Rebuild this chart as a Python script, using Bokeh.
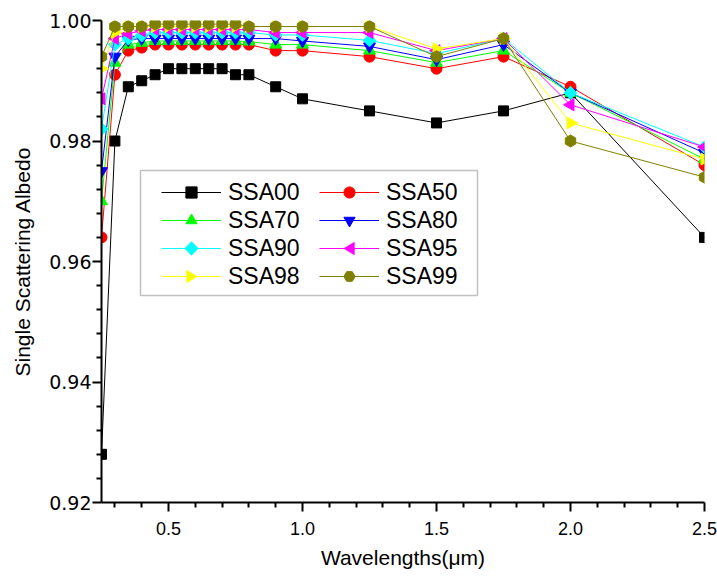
import math
from bokeh.plotting import figure
from bokeh.models import (Range1d, FixedTicker, NumeralTickFormatter, Legend,
                          LegendItem, BoxAnnotation, PolyAnnotation)
from bokeh.embed import file_html
from bokeh.resources import INLINE

# ---- data ----
wavelengths = [0.25, 0.3, 0.35, 0.4, 0.45, 0.5, 0.55, 0.6, 0.65, 0.7, 0.75,
               0.8, 0.9, 1.0, 1.25, 1.5, 1.75, 2.0, 2.5]

ssa00 = [0.928, 0.980, 0.989, 0.990, 0.991, 0.992, 0.992, 0.992, 0.992, 0.992,
         0.991, 0.991, 0.989, 0.987, 0.985, 0.983, 0.985, 0.988, 0.964]
ssa50 = [0.964, 0.991, 0.995, 0.9955, 0.996, 0.996, 0.996, 0.996, 0.996, 0.996,
         0.996, 0.996, 0.995, 0.995, 0.994, 0.992, 0.994, 0.989, 0.976]
ssa70 = [0.970, 0.993, 0.996, 0.9963, 0.9966, 0.9966, 0.9966, 0.9966, 0.9966,
         0.9966, 0.9966, 0.9965, 0.996, 0.996, 0.995, 0.993, 0.995, 0.988, 0.977]
ssa80 = [0.975, 0.994, 0.9968, 0.997, 0.997, 0.997, 0.997, 0.997, 0.997, 0.997,
         0.997, 0.997, 0.997, 0.9966, 0.9957, 0.9935, 0.996, 0.988, 0.978]
ssa90 = [0.982, 0.996, 0.997, 0.9975, 0.998, 0.998, 0.998, 0.998, 0.998, 0.998,
         0.998, 0.998, 0.9976, 0.9976, 0.9967, 0.9945, 0.997, 0.988, 0.979]
ssa95 = [0.987, 0.997, 0.9978, 0.9983, 0.9985, 0.9985, 0.9985, 0.9985, 0.9985,
         0.9985, 0.9985, 0.9985, 0.998, 0.998, 0.998, 0.995, 0.997, 0.986, 0.979]
ssa98 = [0.992, 0.998, 0.999, 0.999, 0.999, 0.999, 0.999, 0.999, 0.999, 0.999,
         0.999, 0.999, 0.999, 0.999, 0.999, 0.9953, 0.997, 0.983, 0.977]
ssa99 = [0.994, 0.999, 0.999, 0.999, 0.9994, 0.9994, 0.9994, 0.9994, 0.9994,
         0.9994, 0.9994, 0.999, 0.999, 0.999, 0.999, 0.994, 0.997, 0.980, 0.974]

series_names = ["SSA00", "SSA50", "SSA70", "SSA80", "SSA90", "SSA95", "SSA98", "SSA99"]
series_values = [ssa00, ssa50, ssa70, ssa80, ssa90, ssa95, ssa98, ssa99]

x_major_ticks = [0.5, 1.0, 1.5, 2.0, 2.5]
x_minor_ticks = [0.3, 0.4, 0.6, 0.7, 0.8, 0.9, 1.1, 1.2, 1.3, 1.4, 1.6, 1.7,
                 1.8, 1.9, 2.1, 2.2, 2.3, 2.4]
y_major_ticks = [0.92, 0.94, 0.96, 0.98, 1.00]
y_minor_ticks = [0.924, 0.928, 0.932, 0.936, 0.944, 0.948, 0.952, 0.956,
                 0.964, 0.968, 0.972, 0.976, 0.984, 0.988, 0.992, 0.996]

# ---- styles ----
colors = ["#000000", "#FF0000", "#00FF00", "#0000FF", "#00FFFF", "#FF00FF",
          "#FFFF00", "#808000"]
markers = ["square", "circle", "triangle", "inverted_triangle", "square",
           "triangle", "triangle", "hex"]
angles = [0, 0, 0, 0, math.pi / 4, math.pi / 2, -math.pi / 2, math.pi / 2]
sizes = [10, 11, 12, 12, 9, 12, 12, 12]
# series whose legend marker is drawn separately (rotated shapes)
custom_legend_marker = {"SSA90", "SSA95", "SSA98"}

FONT = "Liberation Sans"

p = figure(width=717, height=577, output_backend="svg", toolbar_location=None,
           x_range=Range1d(0.25, 2.5), y_range=Range1d(0.92, 1.0),
           min_border_left=101, min_border_right=13, min_border_top=20,
           min_border_bottom=75)
p.outline_line_color = None
p.xgrid.visible = False
p.ygrid.visible = False
p.background_fill_color = "white"
p.border_fill_color = "white"

items = []
for name, vals, col, mk, ang, sz in zip(series_names, series_values, colors,
                                         markers, angles, sizes):
    lr = p.line(wavelengths, vals, line_color=col, line_width=1)
    sr = p.scatter(wavelengths, vals, marker=mk, size=sz, angle=ang,
                   fill_color=col, line_color=col)
    rends = [lr] if name in custom_legend_marker else [lr, sr]
    items.append(LegendItem(label=name, renderers=rends))

# axes
xa = p.xaxis[0]
ya = p.yaxis[0]
xa.ticker = FixedTicker(ticks=x_major_ticks, minor_ticks=x_minor_ticks)
ya.ticker = FixedTicker(ticks=y_major_ticks, minor_ticks=y_minor_ticks)
xa.formatter = NumeralTickFormatter(format="0.0")
ya.formatter = NumeralTickFormatter(format="0.00")
for ax in (xa, ya):
    ax.axis_line_width = 2
    ax.axis_line_color = "black"
    ax.major_tick_line_width = 2
    ax.minor_tick_line_width = 2
    ax.major_tick_out = 9
    ax.major_tick_in = 0
    ax.minor_tick_out = 5
    ax.minor_tick_in = 0
    ax.major_label_text_color = "black"
    ax.axis_label_text_color = "black"
    ax.axis_label_text_font = FONT
    ax.axis_label_text_font_style = "normal"

xa.major_label_text_font = FONT
xa.major_label_text_font_size = "18px"
xa.major_label_standoff = 10
xa.axis_label = "Wavelengths(\u03bcm)"
xa.axis_label_text_font_size = "21px"
xa.axis_label_standoff = 8

ya.major_label_text_font = "DejaVu Sans"
ya.major_label_text_font_size = "19px"
ya.major_label_standoff = 1
ya.axis_label = "Single Scattering Albedo"
ya.axis_label_text_font_size = "21px"
ya.axis_label_standoff = 12

# legend (2 columns, row-major), frame-relative screen position
leg_x, leg_y = 60, 212
glyph_w, row_h, label_w, standoff = 60, 28, 91, 7
legend = Legend(items=items, location=(leg_x, leg_y), orientation="horizontal",
                ncols=2, padding=0, margin=0, spacing=0,
                glyph_width=glyph_w, glyph_height=row_h, label_height=row_h,
                label_width=label_w, label_standoff=standoff,
                label_text_font=FONT, label_text_font_size="23px",
                label_text_color="black",
                border_line_alpha=0, background_fill_alpha=0)
p.add_layout(legend, "center")

# legend frame
box = BoxAnnotation(left=39, right=376, bottom=207, top=332,
                    left_units="screen", right_units="screen",
                    top_units="screen", bottom_units="screen",
                    fill_alpha=0, line_color="#333333", line_width=1.5)
p.add_layout(box)

# rotated legend markers (Legend does not rotate marker glyphs)
legend_top = leg_y + 4 * row_h
col_w = glyph_w + standoff + label_w


def cell_center(idx):
    row, col = divmod(idx, 2)
    return leg_x + col * col_w + glyph_w / 2, legend_top - (row + 0.5) * row_h


def shape(name):
    if name == "SSA90":
        return [0, 7, 0, -7], [7, 0, -7, 0]
    if name == "SSA95":
        return [-6, 5, 5], [0, 6.5, -6.5]
    return [6, -5, -5], [0, 6.5, -6.5]


for idx, (name, col) in enumerate(zip(series_names, colors)):
    if name in custom_legend_marker:
        cx, cy = cell_center(idx)
        dx, dy = shape(name)
        p.add_layout(PolyAnnotation(xs=[cx + d for d in dx], ys=[cy + d for d in dy],
                                    xs_units="screen", ys_units="screen",
                                    fill_color=col, fill_alpha=1,
                                    line_color=col, line_width=1))

open("out.html", "w").write(file_html(p, INLINE))
